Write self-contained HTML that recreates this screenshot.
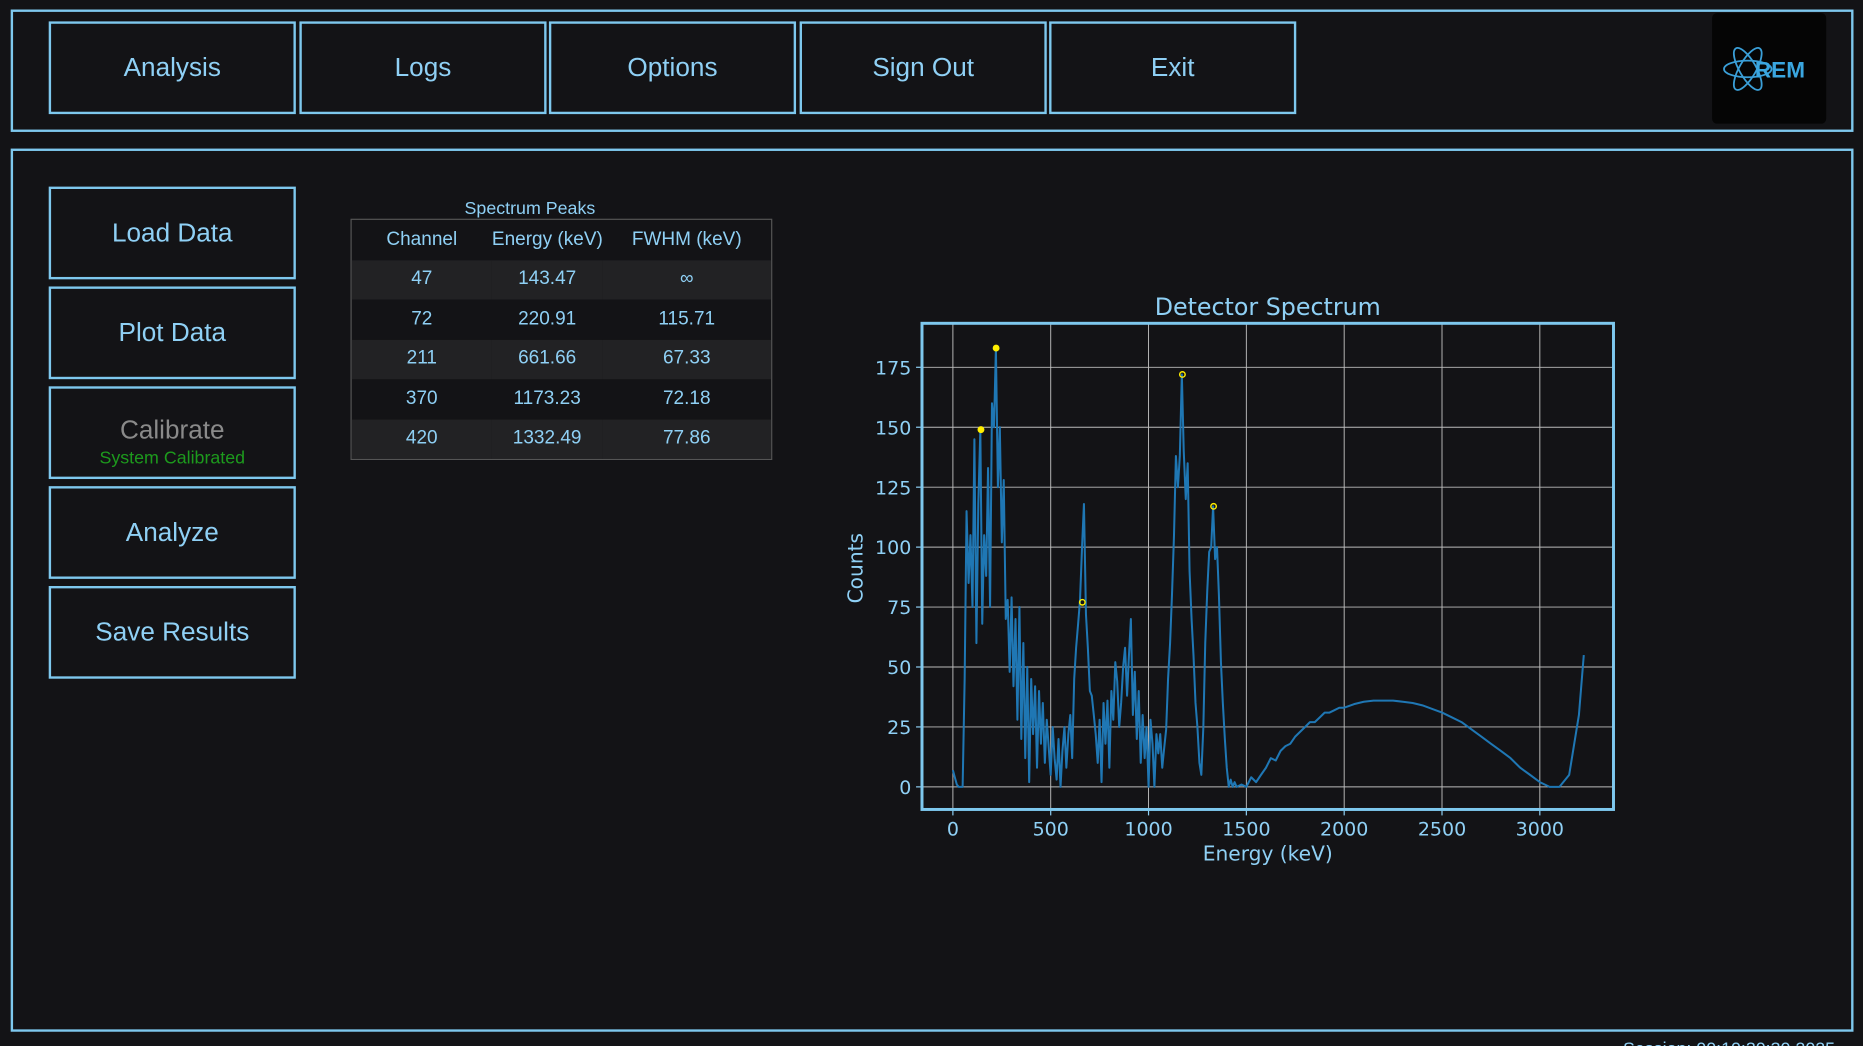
<!DOCTYPE html>
<html><head><meta charset="utf-8"><style>
html,body{margin:0;padding:0;background:#131316;overflow:hidden;width:1863px;height:1046px}
#root{position:absolute;left:0;top:0;width:1568px;height:880px;transform:scale(1.18814,1.18864);transform-origin:0 0;font-family:"Liberation Sans",sans-serif;color:#8fd0f5;overflow:hidden}
.frame{position:absolute;border:2px solid #7ec8ee;box-sizing:border-box}
.btn{position:absolute;border:2px solid #7ec8ee;box-sizing:border-box;display:flex;align-items:center;justify-content:center;font-size:22px;color:#8fd0f5}
table{border-collapse:collapse;font-size:16px;color:#8fd0f5;table-layout:fixed}
td,th{font-weight:normal;text-align:center;height:33.5px;padding:0;white-space:nowrap}
</style></head><body>
<div id="root">
<div class="frame" style="left:9px;top:8px;width:1551px;height:103px"></div>
<div class="btn" style="left:41px;top:18px;width:208px;height:78px">Analysis</div>
<div class="btn" style="left:252px;top:18px;width:208px;height:78px">Logs</div>
<div class="btn" style="left:462px;top:18px;width:208px;height:78px">Options</div>
<div class="btn" style="left:673px;top:18px;width:208px;height:78px">Sign Out</div>
<div class="btn" style="left:883px;top:18px;width:208px;height:78px">Exit</div>
<div style="position:absolute;left:1441px;top:11px;width:96px;height:93px;background:#050505;border-radius:4px">
<svg width="96" height="93"><g fill="none" stroke="#3a9fd8" stroke-width="1.5"><ellipse cx="30" cy="47" rx="20" ry="7"/><ellipse cx="30" cy="47" rx="20" ry="7" transform="rotate(60 30 47)"/><ellipse cx="30" cy="47" rx="20" ry="7" transform="rotate(-60 30 47)"/></g><text x="36" y="54" font-family="Liberation Sans" font-weight="bold" font-size="19" fill="#3aa6e0">REM</text></svg></div>
<div class="frame" style="left:9px;top:125px;width:1551px;height:743px"></div>
<div class="btn" style="left:41px;top:157px;width:208px;height:78px">Load Data</div>
<div class="btn" style="left:41px;top:241px;width:208px;height:78px">Plot Data</div>
<div class="btn" style="left:41px;top:325px;width:208px;height:78px;color:#8a8a8a;flex-direction:column"><span style="margin-top:14px">Calibrate</span><span style="font-size:15px;color:#1d9a1d;margin-top:2px">System Calibrated</span></div>
<div class="btn" style="left:41px;top:409px;width:208px;height:78px">Analyze</div>
<div class="btn" style="left:41px;top:493px;width:208px;height:78px">Save Results</div>
<div style="position:absolute;left:295px;top:167px;width:302px;text-align:center;font-size:15px">Spectrum Peaks</div>
<div style="position:absolute;left:295px;top:184px;width:355px;height:203px;border:1px solid #555;box-sizing:border-box;overflow:hidden">
<table style="width:353px">
<colgroup><col style="width:118px"><col style="width:93px"><col></colgroup>
<tr><th>Channel</th><th>Energy (keV)</th><th>FWHM (keV)</th></tr>
<tr style="background:#222224"><td>47</td><td>143.47</td><td>∞</td></tr>
<tr><td>72</td><td>220.91</td><td>115.71</td></tr>
<tr style="background:#222224"><td>211</td><td>661.66</td><td>67.33</td></tr>
<tr><td>370</td><td>1173.23</td><td>72.18</td></tr>
<tr style="background:#222224"><td>420</td><td>1332.49</td><td>77.86</td></tr>
</table></div>
<svg id="chart" style="position:absolute;left:0;top:0" width="1568" height="880"></svg>
<div style="position:absolute;left:1366px;top:874px;font-size:15px;white-space:nowrap">Session: 00:10:30:30 2025</div>
</div>
<script>
const energies=[0,10,20,30,40,50,60,70,80,90,100,110,120,130,140,150,160,170,180,190,200,210,220,230,240,250,260,270,280,290,300,310,320,330,340,350,360,370,380,390,400,410,420,430,440,450,460,470,480,490,500,510,520,530,540,550,560,570,580,590,600,610,620,630,640,650,660,670,680,690,700,710,720,730,740,750,760,770,780,790,800,810,820,830,840,850,860,870,880,890,900,910,920,930,940,950,960,970,980,990,1000,1010,1020,1030,1040,1050,1060,1070,1080,1090,1100,1110,1120,1130,1140,1150,1160,1170,1180,1190,1200,1210,1220,1230,1240,1250,1260,1270,1280,1290,1300,1310,1320,1330,1340,1350,1360,1370,1380,1390,1400,1410,1420,1430,1440,1450,1475,1500,1525,1550,1575,1600,1625,1650,1675,1700,1725,1750,1775,1800,1825,1850,1875,1900,1925,1950,1975,2000,2050,2100,2150,2200,2250,2300,2350,2400,2450,2500,2550,2600,2650,2700,2750,2800,2850,2900,2950,3000,3050,3100,3150,3200,3225];
const counts=[7,4,1,0,0,0,45,115,85,105,75,145,60,118,149,68,105,88,133,75,160,150,183,125,150,102,128,70,78,48,79,42,70,28,75,20,60,12,50,2,45,22,42,8,40,18,35,10,28,16,5,25,12,3,20,0,15,25,8,22,30,12,45,58,68,78,100,118,72,58,40,38,30,22,10,28,2,35,18,36,8,40,28,52,44,25,35,50,58,38,55,70,30,48,20,40,10,30,12,25,0,28,18,0,22,14,22,8,16,24,45,60,80,105,138,125,138,172,140,120,135,90,70,55,35,25,10,5,25,60,82,98,100,117,95,100,80,52,35,20,8,0,3,0,2,0,1,0,4,2,5,8,12,11,15,17,18,21,23,25,27,27,29,31,31,32,33,33,34.5,35.5,36,36,36,35.5,35,34,32.5,31,29,27,24,21,18,15,12,8,5,2,0,0,5,30,55];
const peakE=[143.47,220.91,661.66,1173.23,1332.49];
const peakC=[149,183,77,172,117];
const peakFilled=[true,true,false,false,false];
const xTicks=[0,500,1000,1500,2000,2500,3000];
const yTicks=[0,25,50,75,100,125,150,175];
const NS='http://www.w3.org/2000/svg';
const svg=document.getElementById('chart');
const X0=776,X1=1358,Y0=272,Y1=681;
const sx=e=>802+e*(1296-802)/3000;
const sy=c=>662-c*(662-309)/175;
function mk(t,a,p){const el=document.createElementNS(NS,t);for(const k in a)el.setAttribute(k,a[k]);(p||svg).appendChild(el);return el;}
let g;
xTicks.forEach(v=>{g=mk('line',{x1:sx(v),x2:sx(v),y1:Y0,y2:Y1,stroke:'#bbb','stroke-width':0.8});

mk('line',{x1:sx(v),x2:sx(v),y1:Y1,y2:Y1+5,stroke:'#8fd0f5'});
const t=mk('text',{x:sx(v),y:Y1+22,'text-anchor':'middle','font-size':16,fill:'#8fd0f5','font-family':'DejaVu Sans'});t.textContent=v;
});
yTicks.forEach(v=>{g=mk('line',{x1:X0,x2:X1,y1:sy(v),y2:sy(v),stroke:'#bbb','stroke-width':0.8});

mk('line',{x1:X0-5,x2:X0,y1:sy(v),y2:sy(v),stroke:'#8fd0f5'});
const t=mk('text',{x:X0-9,y:sy(v)+6,'text-anchor':'end','font-size':16,fill:'#8fd0f5','font-family':'DejaVu Sans'});t.textContent=v;
});
let d='';energies.forEach((e,i)=>{d+=(i?'L':'M')+sx(e).toFixed(1)+','+sy(counts[i]).toFixed(1);});
const line=mk('path',{d:d,fill:'none',stroke:'#1f77b4','stroke-width':1.7,'stroke-linejoin':'round'});

peakE.forEach((e,i)=>{const c=mk('circle',{cx:sx(e),cy:sy(peakC[i]),r:2.3,fill:peakFilled[i]?'#ffee00':'none',stroke:'#ffee00','stroke-width':1.2});
});
const fr=mk('rect',{x:X0,y:Y0,width:X1-X0,height:Y1-Y0,fill:'none',stroke:'#7ec8ee','stroke-width':2.5});

let t=mk('text',{x:1067,y:265,'text-anchor':'middle','font-size':20,fill:'#8fd0f5','font-family':'DejaVu Sans'});t.textContent='Detector Spectrum';

t=mk('text',{x:1067,y:724,'text-anchor':'middle','font-size':17,fill:'#8fd0f5','font-family':'DejaVu Sans'});t.textContent='Energy (keV)';

t=mk('text',{x:726,y:478,'text-anchor':'middle','font-size':17,fill:'#8fd0f5','font-family':'DejaVu Sans',transform:'rotate(-90 726 478)'});t.textContent='Counts';

</script>
</body></html>
